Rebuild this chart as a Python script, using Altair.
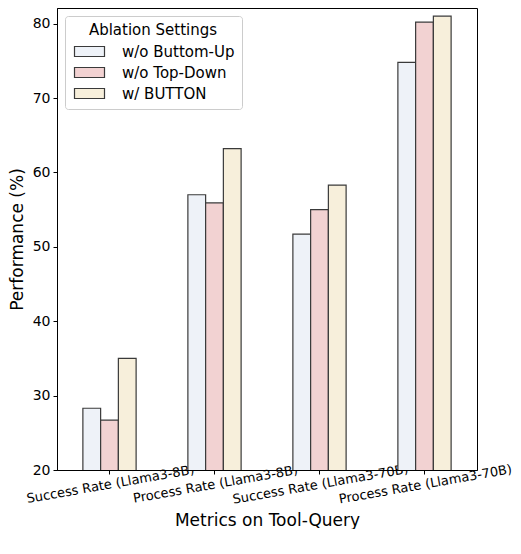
import altair as alt
import pandas as pd

categories = ["Success Rate (Llama3-8B)", "Process Rate (Llama3-8B)",
              "Success Rate (Llama3-70B)", "Process Rate (Llama3-70B)"]
series = ["w/o Buttom-Up", "w/o Top-Down", "w/ BUTTON"]
vals_bottom_up = [28.3, 57.0, 51.7, 74.8]
vals_top_down = [26.7, 55.9, 55.0, 80.2]
vals_button = [35.0, 63.2, 58.3, 81.0]
colors = ["#EEF2F8", "#F2D2D2", "#F7EFDB"]

rows = []
for s, vals in zip(series, [vals_bottom_up, vals_top_down, vals_button]):
    for c, v in zip(categories, vals):
        rows.append({"Metric": c, "Setting": s, "Value": v})
df = pd.DataFrame(rows)

font = "DejaVu Sans"
chart = alt.Chart(df).mark_bar(stroke="#3a3a3a", strokeWidth=1.2, clip=True).encode(
    x=alt.X("Metric:N", sort=categories,
            scale=alt.Scale(paddingInner=0.493, paddingOuter=0.2465),
            axis=alt.Axis(title="Metrics on Tool-Query", labelAngle=350,
                          labelAlign="center", labelBaseline="top",
                          labelFontSize=13, titleFontSize=17, labelPadding=4,
                          labelLimit=0, labelOverlap=False,
                          titlePadding=6, tickSize=4, tickColor="#000",
                          labelColor="#000", titleColor="#000",
                          domainColor="#000", titleFontWeight="normal")),
    xOffset=alt.XOffset("Setting:N", sort=series),
    y=alt.Y("Value:Q", scale=alt.Scale(domain=[20, 82.1], nice=False, zero=False),
            axis=alt.Axis(title="Performance (%)", values=[20, 30, 40, 50, 60, 70, 80],
                          grid=False, labelFontSize=14, titleFontSize=17,
                          tickSize=4, tickColor="#000", labelColor="#000",
                          titleColor="#000", domainColor="#000",
                          titleFontWeight="normal", titlePadding=6, labelPadding=3)),
    fill=alt.Fill("Setting:N", sort=series,
                  scale=alt.Scale(domain=series, range=colors),
                  legend=alt.Legend(title="Ablation Settings", orient="top-left",
                                    offset=8, fillColor="white",
                                    strokeColor="#cccccc", cornerRadius=3,
                                    padding=7, titleFontSize=15, labelFontSize=15,
                                    titleFontWeight="normal", titleAnchor="middle",
                                    titlePadding=6,
                                    symbolType="M-3,-1H3V1H-3Z",
                                    symbolSize=100, symbolOffset=10,
                                    symbolStrokeColor="#3a3a3a",
                                    symbolStrokeWidth=1.2, rowPadding=5,
                                    labelOffset=25,
                                    labelColor="#000", titleColor="#000")),
).properties(width=420, height=462, padding={"left": 0, "top": 0, "right": 0, "bottom": 0}
).configure(font=font).configure_view(stroke="#000", strokeWidth=1)

chart.save("out.html", embed_options={"renderer": "svg", "actions": False})
